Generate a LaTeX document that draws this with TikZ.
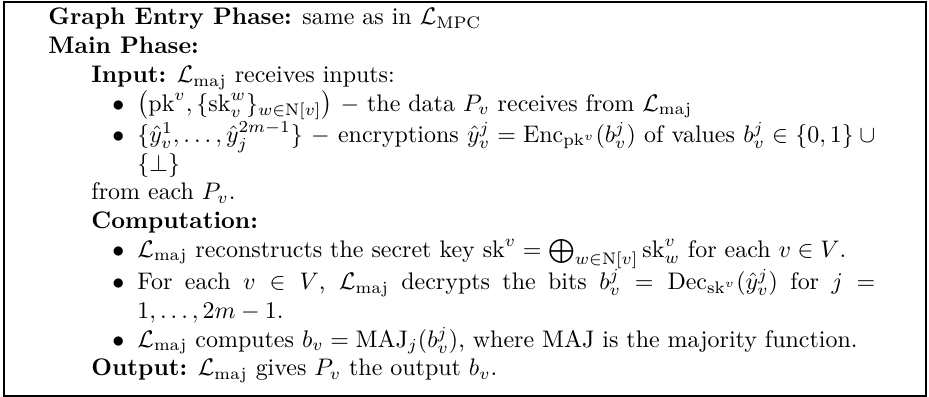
\documentclass[tikz,border=0pt]{standalone}
\usepackage{amsmath,amssymb}
\begin{document}
\begin{tikzpicture}[x=0.4174pt,y=-0.4174pt,
  txt/.style={inner sep=0pt,anchor=base west},
  para/.style={inner sep=0pt,anchor=base west,text width=308pt,align=justify},
  bul/.style={inner sep=0pt,anchor=base west},
  frame/.style={draw=black,line width=0.85pt}]
\useasboundingbox (0,0) rectangle (929,397);
\draw[frame] (4,2) rectangle (926,396);
\node[txt] (g) at (48,25) {\textbf{Graph Entry Phase:} same as in $\mathcal{L}_{\mathrm{MPC}}$};
\node[txt] (m) at (48,53.75) {\textbf{Main Phase:}};
\node[txt] (in) at (91,82.5) {\textbf{Input:} $\mathcal{L}_{\mathrm{maj}}$ receives inputs:};
\node[bul] (b1) at (112,111.25) {$\bullet$};
\node[para] (i1) at (137,111.25) {$\bigl(\mathrm{pk}^v, \{\mathrm{sk}^w_v\}_{w\in \mathrm{N}[v]}\bigr)$ $-$ the data $P_v$ receives from $\mathcal{L}_{\mathrm{maj}}$};
\node[bul] (b2) at (112,142.4) {$\bullet$};
\node[para] (i2) at (137,142.4) {$\{\hat{y}^1_v, \ldots, \hat{y}^{2m-1}_j\}$ $-$ encryptions $\hat{y}^j_v = \mathrm{Enc}_{\mathrm{pk}^v}(b^j_v)$ of values $b^j_v \in \{0,1\} \cup \{\bot\}$};
\node[txt] (fr) at (91,199.9) {from each $P_v$.};
\node[txt] (co) at (91,228.6) {\textbf{Computation:}};
\node[bul] (b3) at (112,257.4) {$\bullet$};
\node[para] (i3) at (137,257.4) {$\mathcal{L}_{\mathrm{maj}}$ reconstructs the secret key $\mathrm{sk}^v = \bigoplus_{w\in\mathrm{N}[v]} \mathrm{sk}^v_w$ for each $v\in V$.};
\node[bul] (b4) at (112,289.6) {$\bullet$};
\node[para] (i4) at (137,289.6) {For each $v \in V$, $\mathcal{L}_{\mathrm{maj}}$ decrypts the bits $b^j_v = \mathrm{Dec}_{\mathrm{sk}^v}(\hat{y}^j_v)$ for $j = 1, \ldots, 2m-1$.};
\node[bul] (b5) at (112,347.1) {$\bullet$};
\node[para] (i5) at (137,347.1) {$\mathcal{L}_{\mathrm{maj}}$ computes $b_v = \mathrm{MAJ}_j(b^j_v)$, where MAJ is the majority function.};
\node[txt] (ou) at (91,375.9) {\textbf{Output:} $\mathcal{L}_{\mathrm{maj}}$ gives $P_v$ the output $b_v$.};
\end{tikzpicture}
\end{document}
